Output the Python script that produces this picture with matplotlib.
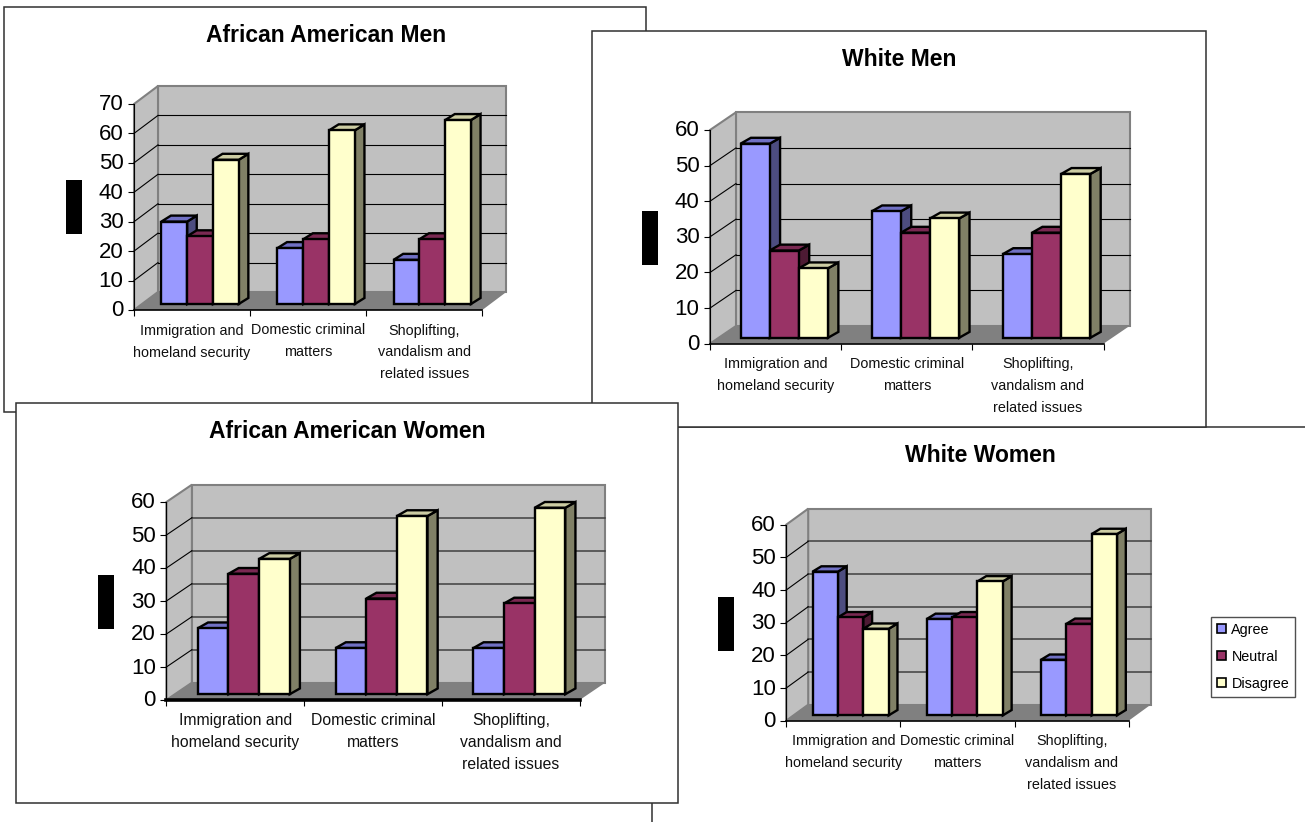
import matplotlib
matplotlib.use('Agg')
import matplotlib.pyplot as plt
from matplotlib.patches import Polygon, Rectangle, Patch
from matplotlib.transforms import Affine2D, ScaledTranslation

plt.rcParams['font.family'] = ['Liberation Sans', 'DejaVu Sans']

WIDTH, HEIGHT = 1305, 822
PT = 0.72  # points per pixel at dpi=100

# Survey responses per category, in percent
categories = [
    ['Immigration and', 'homeland security'],
    ['Domestic criminal', 'matters'],
    ['Shoplifting,', 'vandalism and', 'related issues'],
]
series_names = ['Agree', 'Neutral', 'Disagree']

aa_men_agree = [28, 19, 15]
aa_men_neutral = [23, 22, 22]
aa_men_disagree = [49, 59, 62.5]

white_men_agree = [54.5, 35.5, 23.5]
white_men_neutral = [24.5, 29.5, 29.5]
white_men_disagree = [19.5, 33.5, 46]

aa_women_agree = [20, 14, 14]
aa_women_neutral = [36.5, 29, 27.5]
aa_women_disagree = [41, 54, 56.5]

white_women_agree = [44, 29.5, 17]
white_women_neutral = [30, 30, 28]
white_women_disagree = [26.5, 41, 55.5]

ticks_70 = [0, 10, 20, 30, 40, 50, 60, 70]
ticks_60 = [0, 10, 20, 30, 40, 50, 60]

front_colors = ['#9999FF', '#993366', '#FFFFCC']
top_colors = ['#7070C4', '#7A2952', '#CCCCA3']
side_colors = ['#4D4D80', '#4D1A33', '#808066']

fig = plt.figure(figsize=(WIDTH / 100, HEIGHT / 100), dpi=100)
to_px = Affine2D().scale(1 / WIDTH, -1 / HEIGHT).translate(0, 1) + fig.transFigure


def draw_panel(title, agree, neutral, disagree, yticks, frame, title_xy, axis_x, axis_y,
               blot, z, label_size=10.4, grid=('black', 0.8), floor_lw=1.2):
    left, top, right, bottom = frame
    fig.add_artist(Rectangle((left, top), right - left, bottom - top, transform=to_px,
                             facecolor='white', edgecolor='#303030', lw=1.1, zorder=z))
    fig.add_artist(Rectangle((blot[0], blot[1]), blot[2] - blot[0], blot[3] - blot[1],
                             transform=to_px, facecolor='black', edgecolor='none', zorder=z + 0.1))
    fig.text(title_xy[0] / WIDTH, 1 - title_xy[1] / HEIGHT, title, fontsize=16.5, fontweight='bold',
             ha='center', va='center', zorder=z + 0.1)

    # front plane of the plot box; the walls and bars go back from it
    x0, x1, dx_px = axis_x
    y0, y_top, dy_px = axis_y
    ax = fig.add_axes([x0 / WIDTH, 1 - y0 / HEIGHT, (x1 - x0) / WIDTH, (y0 - y_top) / HEIGHT])
    ax.set_zorder(z + 0.2)
    ax.patch.set_visible(False)
    ymax = yticks[-1]
    ax.set_xlim(0, 3)
    ax.set_ylim(0, ymax)
    dx = dx_px * 3 / (x1 - x0)
    dy = dy_px * ymax / (y0 - y_top)

    # walls and floor
    ax.add_patch(Polygon([(dx, dy), (3 + dx, dy), (3 + dx, ymax + dy), (dx, ymax + dy)],
                         fc='#C0C0C0', ec='#808080', lw=1.5, clip_on=False, zorder=1))
    ax.add_patch(Polygon([(0, 0), (dx, dy), (dx, ymax + dy), (0, ymax)],
                         fc='#C0C0C0', ec='#808080', lw=1.5, clip_on=False, zorder=1))
    for v in yticks[1:-1]:
        ax.plot([dx, 3 + dx], [v + dy, v + dy], color=grid[0], lw=grid[1], clip_on=False, zorder=1.5)
        ax.plot([0, dx], [v, v + dy], color='black', lw=0.8, clip_on=False, zorder=1.5)
    ax.add_patch(Polygon([(0, 0), (dx, dy), (3 + dx, dy), (3, 0)],
                         fc='#808080', ec='none', clip_on=False, zorder=1.6))

    # 3-D bars, sitting a third of the way back on the floor
    bar_w = 1 / 4.5
    shift_x, shift_y = dx / 3, dy / 3
    depth_x, depth_y = dx * 0.4, dy / 3
    edge = dict(ec='black', lw=1.7, joinstyle='miter', clip_on=False, zorder=3)
    for i in range(3):
        values = [agree[i], neutral[i], disagree[i]]
        for j, v in enumerate(values):
            xa = i + 0.75 * bar_w + j * bar_w + shift_x
            xb = xa + bar_w
            ya, yb = shift_y, shift_y + v
            ax.add_patch(Polygon([(xb, ya), (xb + depth_x, ya + depth_y),
                                  (xb + depth_x, yb + depth_y), (xb, yb)],
                                 fc=side_colors[j], **edge))
            ax.add_patch(Polygon([(xa, yb), (xb, yb), (xb + depth_x, yb + depth_y),
                                  (xa + depth_x, yb + depth_y)], fc=top_colors[j], **edge))
            ax.add_patch(Polygon([(xa, ya), (xb, ya), (xb, yb), (xa, yb)],
                                 fc=front_colors[j], **edge))

    for name in ['top', 'right']:
        ax.spines[name].set_visible(False)
    ax.spines['left'].set_linewidth(0.8)
    ax.spines['bottom'].set_linewidth(floor_lw)
    ax.set_yticks(yticks)
    ax.set_xticks([0, 1, 2, 3])
    ax.set_xticklabels([])
    ax.tick_params(axis='y', length=4, width=0.8, labelsize=16, pad=3.5)
    ax.tick_params(axis='x', length=4.5, width=0.8)
    # numbers sit slightly above their tick marks
    nudge = ScaledTranslation(0, 1.5 / 100, fig.dpi_scale_trans)
    for label in ax.get_yticklabels():
        label.set_transform(label.get_transform() + nudge)

    for i, lines in enumerate(categories):
        for k, line in enumerate(lines):
            ax.annotate(line, (i + 0.5, 0), xytext=(0, -(20.5 + 22 * k) * PT),
                        textcoords='offset points', ha='center', va='center',
                        fontsize=label_size, color='#101010')
    return ax


draw_panel('African American Men', aa_men_agree, aa_men_neutral, aa_men_disagree, ticks_70,
           frame=(3.5, 7, 646, 411.5), title_xy=(326, 35), axis_x=(134, 482.3, 24),
           axis_y=(310, 104, 18), blot=(66, 180, 82, 234), z=1)
ax_ww = draw_panel('White Women', white_women_agree, white_women_neutral, white_women_disagree, ticks_60,
                   frame=(652, 427, 1340, 860), title_xy=(980, 455), axis_x=(786.2, 1128.7, 22),
                   axis_y=(720.7, 524.7, 16), blot=(718, 597, 734, 651), z=2,
                   grid=('#404040', 1.1))
draw_panel('White Men', white_men_agree, white_men_neutral, white_men_disagree, ticks_60,
           frame=(591.5, 30.7, 1205.5, 426.7), title_xy=(899, 59), axis_x=(710, 1103.5, 26),
           axis_y=(343.7, 130, 17.7), blot=(642, 211, 658, 265), z=3)
draw_panel('African American Women', aa_women_agree, aa_women_neutral, aa_women_disagree, ticks_60,
           frame=(15.8, 402.7, 677.8, 802.7), title_xy=(347, 431), axis_x=(166.4, 579.7, 25.5),
           axis_y=(700, 502, 17.3), blot=(98, 575, 114, 629), z=4, label_size=11.3,
           grid=('#404040', 1.1), floor_lw=2.6)

handles = [Patch(fc=c, ec='black', lw=1.2) for c in front_colors]
legend = ax_ww.legend(handles, series_names, loc='upper left',
                      bbox_to_anchor=(1210.6 / WIDTH, 1 - 616.7 / HEIGHT), bbox_transform=fig.transFigure,
                      borderaxespad=0, fontsize=10.4, fancybox=False, framealpha=1, edgecolor='#505050',
                      handlelength=0.62, handleheight=0.62, handletextpad=0.4, labelspacing=0.9, borderpad=0.42)
legend.get_frame().set_linewidth(1.0)

fig.savefig('out.png', dpi=100)
